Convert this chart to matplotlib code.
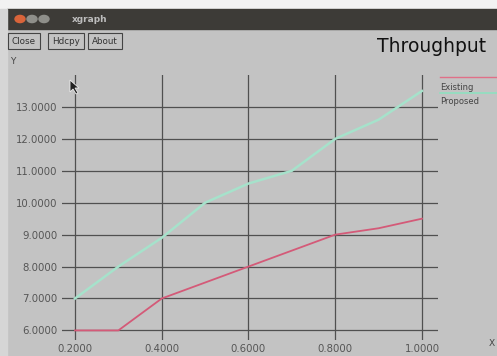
import matplotlib.pyplot as plt
from matplotlib.patches import Rectangle, Circle, Polygon

# data
load = [0.2, 0.3, 0.4, 0.5, 0.6, 0.7, 0.8, 0.9, 1.0]
existing = [6.0, 6.0, 7.0, 7.5, 8.0, 8.5, 9.0, 9.2, 9.5]
proposed = [7.0, 8.0, 8.9, 10.0, 10.6, 11.0, 12.0, 12.6, 13.5]
x_ticks = [0.2, 0.4, 0.6, 0.8, 1.0]
y_ticks = [6, 7, 8, 9, 10, 11, 12, 13]
buttons = ["Close", "Hdcpy", "About"]

W, H = 497, 356
BG = "#c3c3c3"


def fx(px):
    return px / W


def fy(py):
    return 1 - py / H


def main():
    fig = plt.figure(figsize=(W / 100, H / 100), dpi=100)
    fig.patch.set_facecolor(BG)

    # window chrome
    fig.patches.append(Rectangle((0, fy(9)), 1, 9 / H, transform=fig.transFigure,
                                 color="#f2f2f2", zorder=0))
    fig.patches.append(Rectangle((fx(7), fy(29)), 1, 20 / H, transform=fig.transFigure,
                                 color="#3d3b37", zorder=1))
    fig.patches.append(Rectangle((0, 0), fx(7), fy(9), transform=fig.transFigure,
                                 color="#d6d6d6", zorder=1))
    for cx, col in [(20, "#d9643a"), (32, "#8f8f8a"), (44, "#8f8f8a")]:
        fig.patches.append(Circle((fx(cx), fy(19)), 5 / W, transform=fig.transFigure,
                                  color=col, zorder=2))
    fig.text(fx(72), fy(19), "xgraph", color="#bdbdbd", fontsize=6.5,
             fontweight="bold", va="center")

    bx = 12
    for name in buttons:
        fig.text(fx(bx), fy(41), name, fontsize=6.3, va="center",
                 color="#333333",
                 bbox=dict(boxstyle="square,pad=0.45", fc=BG, ec="#444444", lw=0.8))
        bx += 40
    fig.text(fx(10), fy(62), "Y", fontsize=6.5, color="#444444", va="center")
    fig.text(fx(489), fy(343), "X", fontsize=6.5, color="#444444", va="center")
    fig.text(fx(486), fy(47), "Throughput", fontsize=13.5, color="#111111",
             ha="right", va="center")

    # mouse cursor
    fig.patches.append(Polygon([(fx(70), fy(80)), (fx(70), fy(92)), (fx(73), fy(89)),
                                (fx(76), fy(94)), (fx(78), fy(93)), (fx(75), fy(88)),
                                (fx(79), fy(88))], closed=True, transform=fig.transFigure,
                               fc="#222222", ec="#eeeeee", lw=0.6, zorder=5))

    # legend
    fig.lines.append(plt.Line2D([fx(440), fx(497)], [fy(77), fy(77)],
                                transform=fig.transFigure, color="#e07088", lw=1))
    fig.lines.append(plt.Line2D([fx(440), fx(497)], [fy(93), fy(93)],
                                transform=fig.transFigure, color="#8fe0c0", lw=1.2))
    fig.text(fx(440), fy(87), "Existing", fontsize=6, color="#444444", va="center")
    fig.text(fx(440), fy(102), "Proposed", fontsize=6, color="#444444", va="center")

    # plot area
    ax = fig.add_axes([fx(62), fy(340), fx(438 - 62), (340 - 75) / H])
    ax.set_facecolor(BG)
    ax.set_xlim(0.17, 1.037)
    ax.set_ylim(5.7, 14.0)
    for s in ax.spines.values():
        s.set_visible(False)
    for v in x_ticks:
        ax.axvline(v, color="#505050", lw=0.9, zorder=1)
    for v in y_ticks:
        ax.axhline(v, color="#505050", lw=0.9, zorder=1)
    ax.set_xticks(x_ticks)
    ax.set_yticks(y_ticks)
    ax.set_xticklabels([f"{v:.4f}" for v in x_ticks])
    ax.set_yticklabels([f"{v:.4f}" for v in y_ticks])
    ax.tick_params(length=0, labelsize=7.3, labelcolor="#555555", pad=3)

    ax.plot(load, proposed, color="#a6e2cb", lw=1.8, zorder=3)
    ax.plot(load, existing, color="#d45a78", lw=1.3, zorder=3)

    fig.savefig("out.png", dpi=100, facecolor=fig.get_facecolor())


if __name__ == "__main__":
    main()
